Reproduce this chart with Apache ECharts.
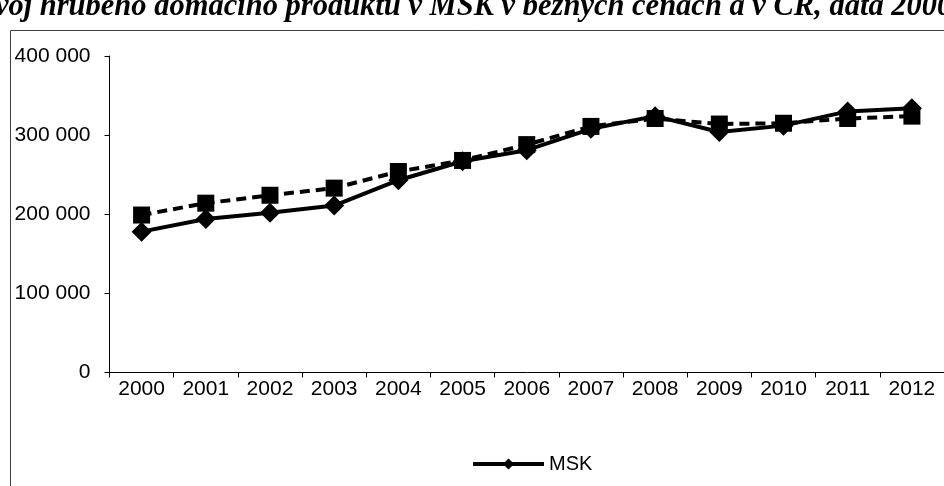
<!DOCTYPE html>
<html>
<head>
<meta charset="utf-8">
<script src="https://cdn.jsdelivr.net/npm/echarts@6/dist/echarts.min.js"></script>
<style>
html,body{margin:0;padding:0;background:#fff;}
#c{width:944px;height:486px;}
</style>
</head>
<body>
<div id="c"></div>
<script>
var titleText = 'Vývoj hrubého domácího produktu v MSK v běžných cenách a v ČR, data 2000–2012';
var years = ['2000','2001','2002','2003','2004','2005','2006','2007','2008','2009','2010','2011','2012'];
var msk = [178000, 194000, 202000, 211000, 243000, 267000, 281000, 308000, 324000, 304000, 312000, 330000, 334000];
var cr  = [199000, 214000, 224000, 233000, 254000, 268000, 288000, 311000, 321000, 314000, 315000, 321000, 324000];
var yTicks = [0, 100000, 200000, 300000, 400000];

var chart = echarts.init(document.getElementById('c'));
function fmt(v){ return String(v).replace(/\B(?=(\d{3})+(?!\d))/g, ' '); }
var font = '"Liberation Sans", Arial, sans-serif';
chart.setOption({
  animation: false,
  backgroundColor: '#fff',
  graphic: [
    { type: 'rect', shape: { x: 10.5, y: 30.5, width: 1000, height: 1000 }, style: { fill: 'none', stroke: '#404040', lineWidth: 1 }, z: 0 },
    { type: 'text', left: -39, top: -8, style: { text: titleText, font: 'italic bold 30.5px "Liberation Serif", "Times New Roman", serif', fill: '#000' }, z: 10 }
  ],
  legend: {
    data: ['MSK'],
    left: 466, top: 449,
    itemWidth: 71, itemHeight: 14, itemGap: 6,
    lineStyle: { width: 4 },
    textStyle: { fontFamily: font, fontSize: 20, color: '#000' }
  },
  grid: { left: 109.5, top: 56, width: 837.5, height: 316.5, containLabel: false },
  xAxis: {
    type: 'category', data: years, boundaryGap: true,
    axisLine: { lineStyle: { color: '#000', width: 1 } },
    axisTick: { show: true, inside: false, length: 5, alignWithLabel: false, lineStyle: { color: '#000' } },
    axisLabel: { fontFamily: font, fontSize: 21, color: '#000', margin: 6, interval: 0 }
  },
  yAxis: {
    type: 'value', min: yTicks[0], max: yTicks[yTicks.length-1], interval: yTicks[1]-yTicks[0],
    axisLine: { show: true, lineStyle: { color: '#000', width: 1 } },
    axisTick: { show: true, inside: false, length: 5, lineStyle: { color: '#000' } },
    splitLine: { show: false },
    axisLabel: { fontFamily: font, fontSize: 21, color: '#000', margin: 19, formatter: fmt }
  },
  series: [
    { name: 'MSK', type: 'line', data: msk, symbol: 'diamond', symbolSize: [20, 20],
      lineStyle: { color: '#000', width: 4 }, itemStyle: { color: '#000' }, z: 3 },
    { name: 'ČR', type: 'line', data: cr, symbol: 'rect', symbolSize: [17, 17],
      lineStyle: { color: '#000', width: 4, type: [10, 6] }, itemStyle: { color: '#000' }, z: 4 }
  ]
});
</script>
</body>
</html>
